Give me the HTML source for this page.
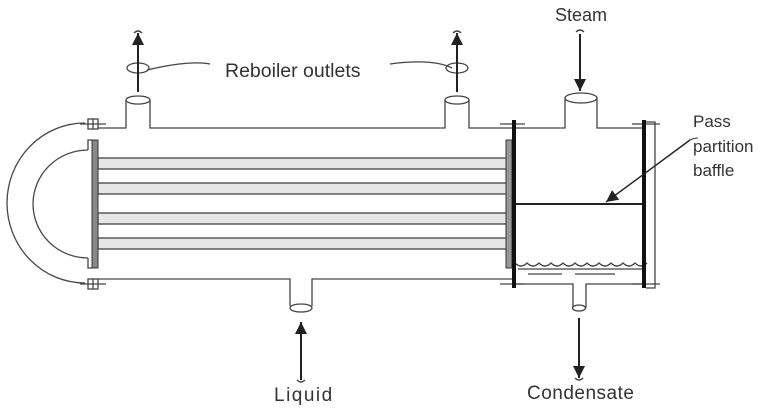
<!DOCTYPE html>
<html><head><style>body{margin:0;background:#fff}svg{display:block}text{font-family:"Liberation Sans",sans-serif;font-size:17px;fill:#333}</style></head>
<body>
<svg width="773" height="412" viewBox="0 0 773 412" xmlns="http://www.w3.org/2000/svg">
<defs>
<marker id="h" viewBox="0 0 10 10" refX="10" refY="5" markerWidth="12" markerHeight="12" orient="auto" markerUnits="userSpaceOnUse"><path d="M0,0 L10,5 L0,10 z" fill="#222"/></marker></defs>
<g fill="none" stroke="#444" stroke-width="1.3">
<path d="M98,128 H126 V100 M150,100 V128 H445 V100 M469,100 V128 H512"/>
<path d="M98,279 H290 V306 M312,306 V279 H512"/>
<ellipse cx="138" cy="100" rx="12" ry="4" fill="#fff"/>
<ellipse cx="457" cy="100" rx="12" ry="4" fill="#fff"/>
<ellipse cx="301" cy="308" rx="11" ry="4" fill="#fff"/>
<path d="M515,128 H565 V98 M597,98 V128 H642"/>
<ellipse cx="581" cy="98" rx="16" ry="5" fill="#fff"/>
<path d="M515,284 H573 V308 M586,308 V284 H642"/>
<ellipse cx="579" cy="308" rx="6.5" ry="3" fill="#fff"/>
<path d="M646,122 H655 V288 H646"/>
<path d="M85,123 A78,80 0 0 0 85,283"/>
<path d="M88,150 A55,54 0 0 0 88,258"/>
<path d="M88,150 V140 H92 M88,258 V268 H92"/>
<path d="M80,124 H106 M80,284 H106 M500,124 H525 M500,284 H525 M632,124 H660 M632,284 H660"/>
<rect x="88" y="119" width="10" height="10"/><rect x="88" y="279" width="10" height="10"/>
<path d="M93,119 V129 M93,279 V289"/>
<path d="M515,263 q6,6 12,0 q6,6 12,0 q6,6 12,0 q6,6 12,0 q6,6 12,0 q6,6 12,0 q6,6 12,0 q6,6 12,0 q6,6 12,0 q6,6 12,0 q6,6 12,0"/>
<path d="M518,269 H642 M528,274 H562 M575,274 H615"/>
<path d="M147,70 C180,62 200,62 210,64 M390,64 C420,60 440,62 452,68"/>
<ellipse cx="138" cy="68" rx="11" ry="5"/><ellipse cx="457" cy="68" rx="11" ry="5"/>
<path d="M134,33 q4,-4 8,0 M453,33 q4,-4 8,0 M576,32 q4,-4 8,0 M297,380 q4,4 8,0 M575,378 q4,4 8,0"/>
</g>
<g fill="#e6e6e6" stroke="#444" stroke-width="1.3">
<rect x="98" y="158" width="409" height="11"/><rect x="98" y="183" width="409" height="11"/>
<rect x="98" y="213" width="409" height="11"/><rect x="98" y="238" width="409" height="11"/>
</g>
<rect x="92" y="140" width="6" height="128" fill="#888" stroke="#333"/>
<rect x="506" y="140" width="6" height="128" fill="#999" stroke="#333"/>
<rect x="512" y="120" width="4" height="168" fill="#111"/>
<rect x="642" y="120" width="4" height="168" fill="#111"/>
<path d="M515,204 H642" stroke="#222" stroke-width="2"/>
<g stroke="#222" stroke-width="2" marker-end="url(#h)">
<path d="M138,92 V33"/><path d="M457,92 V33"/><path d="M580,34 V91"/>
<path d="M301,380 V322"/><path d="M579,318 V378"/>
<path d="M690,140 L606,202" stroke-width="1.4"/>
</g>
<path d="M690,140 q4,-2 8,-2" stroke="#333" fill="none"/>
<text x="225" y="77" style="font-size:19.5px">Reboiler outlets</text>
<text x="555" y="21" style="font-size:18px">Steam</text>
<text x="693" y="127">Pass</text>
<text x="693" y="152">partition</text>
<text x="693" y="176">baffle</text>
<text x="274" y="401" style="font-size:19px;letter-spacing:1.5px">Liquid</text>
<text x="527" y="399" style="font-size:19px;letter-spacing:0.5px">Condensate</text>
</svg>
</body></html>
